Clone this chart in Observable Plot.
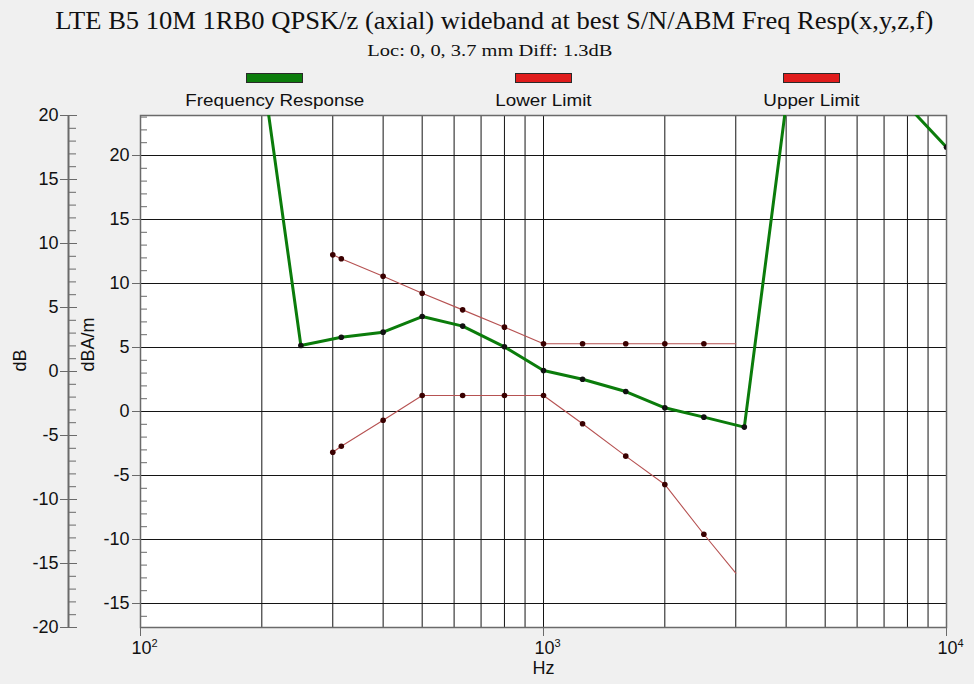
<!DOCTYPE html>
<html><head><meta charset="utf-8">
<script src="https://cdn.jsdelivr.net/npm/d3@7"></script>
<script src="https://cdn.jsdelivr.net/npm/@observablehq/plot@0.6"></script>
<style>
html,body{margin:0;padding:0;background:#f0f0f0;}
#wrap{position:relative;width:974px;height:684px;background:#f0f0f0;overflow:hidden;}
#head{position:relative;width:974px;height:104px;}
.t{position:absolute;white-space:nowrap;text-align:center;color:#111;}
.t span{display:inline-block;transform-origin:50% 50%;}
#title{left:0;width:988px;top:8px;font:25px/25px "Liberation Serif","Times New Roman",serif;}
#sub{left:0;width:980px;top:43px;font:16px/16px "Liberation Serif","Times New Roman",serif;}
.sw{position:absolute;top:73px;width:57px;height:10px;box-sizing:border-box;border:1px solid #2a2a2a;}
.lab{position:absolute;top:92px;width:300px;font:17px/17px "Liberation Sans",Arial,sans-serif;}
#chart svg{display:block;}
</style></head>
<body>
<div id="wrap">
  <div id="head"></div>
  <div id="chart"></div>
</div>
<script>
// ---- text ----
const titleText = "LTE B5 10M 1RB0 QPSK/z (axial) wideband at best S/N/ABM Freq Resp(x,y,z,f)";
const subtitleText = "Loc: 0, 0, 3.7 mm Diff: 1.3dB";
const seriesNames = ["Frequency Response", "Lower Limit", "Upper Limit"];
const seriesSwatch = ["#0c7d0c", "#e01c1c", "#e01c1c"];

// ---- data (dBA/m, inner scale) ----
const respFreq = [200, 250, 315, 400, 500, 630, 800, 1000, 1250, 1600, 2000, 2500, 3150, 4000, 5000, 6300, 8000, 10000];
const respValue = [27.0, 5.16, 5.8, 6.2, 7.42, 6.67, 5.05, 3.2, 2.52, 1.56, 0.29, -0.44, -1.22, 24.0, 30.0, 29.0, 23.9, 20.65];

const limitFreq = [300, 315, 400, 500, 630, 800, 1000, 1250, 1600, 2000, 2500, 3000];
const upperValue = [12.24, 11.93, 10.57, 9.24, 7.94, 6.59, 5.29, 5.29, 5.29, 5.29, 5.29, 5.29];
const lowerValue = [-3.18, -2.71, -0.68, 1.25, 1.25, 1.25, 1.25, -0.96, -3.49, -5.70, -9.59, -12.63];

// ---- axes ----
const innerTicks = [-15, -10, -5, 0, 5, 10, 15, 20];
const outerTicks = [-20, -15, -10, -5, 0, 5, 10, 15, 20];
const dbOffset = 3.125; // dBA/m = dB + offset
const yDomain = [-16.875, 23.125];
const xDomain = [100, 10000];
const xTicks = [100, 1000, 10000];
const xTickExp = ["2", "3", "4"];
const xGrid = [200, 300, 400, 500, 600, 700, 800, 900, 1000, 2000, 3000, 4000, 5000, 6000, 7000, 8000, 9000];
const xLabel = "Hz", yLabelOuter = "dB", yLabelInner = "dBA/m";

const respRows = respFreq.map((f, i) => ({f, v: respValue[i]}));
const upperRows = limitFreq.map((f, i) => ({f, v: upperValue[i]}));
const lowerRows = limitFreq.map((f, i) => ({f, v: lowerValue[i]}));
const lastLimit = limitFreq[limitFreq.length - 1];
const innerMinor = d3.range(-16, 24).filter(v => v % 5 !== 0);
const outerMinor = d3.range(-20, 21).filter(v => v % 5 !== 0);

// ---- header ----
const head = document.getElementById("head");
head.innerHTML = `<div class="t" id="title"><span>${titleText}</span></div>
<div class="t" id="sub"><span>${subtitleText}</span></div>`;
const centers = [274.5, 543, 811.5];
seriesNames.forEach((n, i) => {
  const sw = document.createElement("div");
  sw.className = "sw"; sw.style.left = (centers[i] - 28.5) + "px"; sw.style.background = seriesSwatch[i];
  head.appendChild(sw);
  const lb = document.createElement("div");
  lb.className = "t lab"; lb.style.left = (centers[i] - 150) + "px";
  lb.innerHTML = `<span>${n}</span>`;
  head.appendChild(lb);
});
function fit(sel, target) {
  const s = document.querySelector(sel);
  const w = s.getBoundingClientRect().width;
  const k = target / w;
  s.style.transform = `scaleX(${k})`;
  return k;
}
fit("#title span", 878);
fit("#sub span", 245);
const labs = document.querySelectorAll(".lab span");
const k = 179 / labs[0].getBoundingClientRect().width;
labs.forEach(s => s.style.transform = `scaleX(${k})`);

// ---- chart ----
const gridC = "#141414", axisC = "#6a6a6a", txt = "#111";
const fs = 18;
const chart = Plot.plot({
  width: 974, height: 580,
  marginTop: 11, marginBottom: 57, marginLeft: 140, marginRight: 28,
  x: {type: "log", domain: xDomain, axis: null},
  y: {domain: yDomain, axis: null},
  style: {background: "transparent", fontFamily: "'Liberation Sans', Arial, sans-serif", fontSize: "18px", color: txt, overflow: "visible"},
  marks: [
    Plot.frame({fill: "white"}),
    Plot.ruleX(xGrid, {stroke: gridC}),
    Plot.ruleY(innerTicks, {stroke: gridC}),
    Plot.ruleY(innerMinor, {x1: 100, x2: 100, insetRight: -7, stroke: axisC}),
    Plot.frame({stroke: axisC, strokeWidth: 1.5}),
    Plot.ruleY(innerTicks, {x1: 100, x2: 100, insetLeft: -8, stroke: axisC}),
    Plot.text(innerTicks, {x: 100, y: d => d, text: d => `${d}`, textAnchor: "end", dx: -11, fontSize: fs, fill: txt}),
    // outer dB axis
    Plot.ruleX([100], {dx: -72, stroke: axisC, strokeWidth: 2}),
    Plot.ruleY(outerTicks, {y: d => d + dbOffset, x1: 100, x2: 100, insetLeft: -8, insetRight: -9, dx: -72, stroke: axisC}),
    Plot.ruleY(outerMinor, {y: d => d + dbOffset, x1: 100, x2: 100, insetRight: -8, dx: -72, stroke: axisC}),
    Plot.text(outerTicks, {x: 100, y: d => d + dbOffset, text: d => `${d}`, textAnchor: "end", dx: -82, fontSize: fs, fill: txt}),
    Plot.text([yLabelOuter], {frameAnchor: "left", dx: -120, rotate: -90, fontSize: fs, fill: txt}),
    Plot.text([yLabelInner], {frameAnchor: "left", dx: -52, rotate: -90, fontSize: fs, fill: txt}),
    // x axis
    Plot.ruleX(xTicks, {insetTop: 512, insetBottom: -9, stroke: axisC}),
    Plot.text(xTicks, {x: d => d, frameAnchor: "bottom", dy: 26, dx: 11, textAnchor: "end", text: () => "10", fontSize: fs, fill: txt}),
    Plot.text(xTicks, {x: d => d, frameAnchor: "bottom", dy: 19, dx: 11, textAnchor: "start", text: (d, i) => xTickExp[i], fontSize: 11, fill: txt}),
    Plot.text([xLabel], {frameAnchor: "bottom", dy: 46, fontSize: fs, fill: txt}),
    // series
    Plot.line(upperRows, {x: "f", y: "v", stroke: "#b65252", strokeWidth: 1.1, clip: true}),
    Plot.line(lowerRows, {x: "f", y: "v", stroke: "#b65252", strokeWidth: 1.1, clip: true}),
    Plot.dot(upperRows.filter(d => d.f !== lastLimit), {x: "f", y: "v", r: 2.8, fill: "#3a0000", clip: true}),
    Plot.dot(lowerRows.filter(d => d.f !== lastLimit), {x: "f", y: "v", r: 2.8, fill: "#3a0000", clip: true}),
    Plot.line(respRows, {x: "f", y: "v", stroke: "#0b7c0b", strokeWidth: 3, clip: true}),
    Plot.dot(respRows, {x: "f", y: "v", r: 2.8, fill: "#111", clip: true})
  ]
});
document.getElementById("chart").appendChild(chart);
</script>
</body></html>
